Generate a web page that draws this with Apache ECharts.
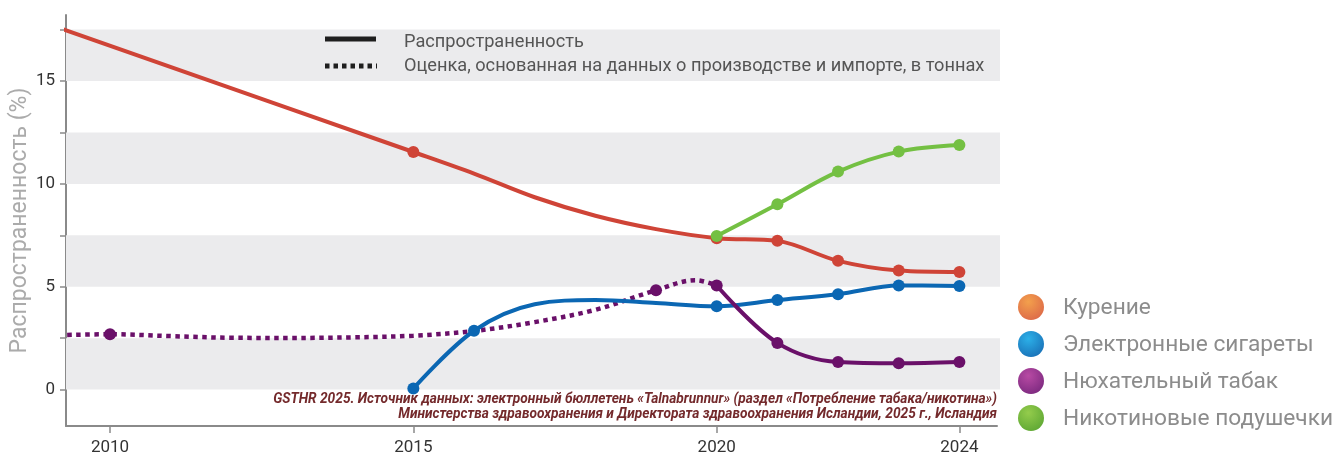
<!DOCTYPE html>
<html>
<head>
<meta charset="utf-8">
<script src="https://cdn.jsdelivr.net/npm/echarts@6/dist/echarts.min.js"></script>
<style>
html,body{margin:0;padding:0;background:#fff;}
#chart{width:1335px;height:454px;}
</style>
</head>
<body>
<div id="chart"></div>
<script>
// ---------- data ----------
const xTickYears = [2010, 2015, 2020, 2024];
const yTickValues = [0, 2.5, 5, 7.5, 10, 12.5, 15, 17.5];
const yLabelValues = [0, 5, 10, 15];
const bandRanges = [[0, 2.5], [5, 7.5], [10, 12.5], [15, 17.5]];

const smokingYears  = [2009, 2015, 2016, 2017, 2018, 2019, 2020, 2021, 2022, 2023, 2024];
const smokingValues = [17.75, 11.55, 10.5, 9.35, 8.45, 7.8, 7.36, 7.23, 6.26, 5.79, 5.72];
const smokingMarked = [2015, 2020, 2021, 2022, 2023, 2024];

const ecigYears  = [2015, 2016, 2017, 2018, 2019, 2020, 2021, 2022, 2023, 2024];
const ecigValues = [0.05, 2.86, 4.15, 4.35, 4.21, 4.05, 4.35, 4.64, 5.06, 5.04];
const ecigMarked = [2015, 2016, 2020, 2021, 2022, 2023, 2024];

const snusEstYears  = [2009, 2010, 2011, 2012, 2013, 2014, 2015, 2016, 2017, 2018, 2019, 2019.65, 2020];
const snusEstValues = [2.63, 2.69, 2.6, 2.52, 2.51, 2.54, 2.62, 2.85, 3.28, 3.88, 4.83, 5.32, 5.06];
const snusEstMarked = [2010, 2019];

const snusYears  = [2020, 2021, 2022, 2023, 2024];
const snusValues = [5.06, 2.27, 1.34, 1.28, 1.34];

const pouchYears  = [2020, 2021, 2022, 2023, 2024];
const pouchValues = [7.47, 9.01, 10.6, 11.57, 11.89];

const yAxisTitle = 'Распространенность (%)';
const styleLegendLabels = ['Распространенность', 'Оценка, основанная на данных о производстве и импорте, в тоннах'];
const productLabels = ['Курение', 'Электронные сигареты', 'Нюхательный табак', 'Никотиновые подушечки'];
const sourceLines = [
  'GSTHR 2025. Источник данных: электронный бюллетень «Talnabrunnur» (раздел «Потребление табака/никотина»)',
  'Министерства здравоохранения и Директората здравоохранения Исландии, 2025 г., Исландия'
];

// ---------- styles ----------
const C_RED = '#cf4437', C_BLUE = '#0b67b3', C_PURPLE = '#6a1069', C_GREEN = '#74c043';
const ballColors = [['#f3a04c', '#dd6a48'], ['#2cb0e8', '#1a72b8'], ['#b84aa4', '#7d2a80'], ['#94cc4c', '#5fa834']];
const MS = 12;

function zipData(xs, ys, marked) {
  return xs.map((x, i) => {
    const show = !marked || marked.indexOf(x) >= 0;
    return { value: [x, ys[i]], symbolSize: show ? MS : 0 };
  });
}

const chart = echarts.init(document.getElementById('chart'), null, { renderer: 'canvas' });
const FONT = 'Roboto';

const graphics = [];
// top style legend
graphics.push({ type: 'line', z: 100, shape: { x1: 325, y1: 39, x2: 376, y2: 39 }, style: { stroke: '#1e1e1e', lineWidth: 5 } });
graphics.push({ type: 'line', z: 100, shape: { x1: 325, y1: 66, x2: 377, y2: 66 }, style: { stroke: '#1e1e1e', lineWidth: 5, lineDash: [4.5, 4] } });
graphics.push({ type: 'text', z: 100, x: 404, y: 42, style: { text: styleLegendLabels[0], font: '18.2px ' + FONT, fill: '#555', verticalAlign: 'middle', textVerticalAlign: 'middle' } });
graphics.push({ type: 'text', z: 100, x: 404, y: 66, style: { text: styleLegendLabels[1], font: '18.2px ' + FONT, fill: '#555', verticalAlign: 'middle', textVerticalAlign: 'middle' } });
// right product legend
productLabels.forEach((lab, i) => {
  const cy = 307 + i * 37;
  graphics.push({ type: 'circle', z: 100, shape: { cx: 1031, cy: cy, r: 13 },
    style: { fill: { type: 'radial', x: 0.4, y: 0.3, r: 0.75, colorStops: [{ offset: 0, color: ballColors[i][0] }, { offset: 1, color: ballColors[i][1] }] } } });
  graphics.push({ type: 'text', z: 100, x: 1063, y: cy + 1, style: { text: lab, font: '22.7px ' + FONT, fill: '#8c8c8c', verticalAlign: 'middle', textVerticalAlign: 'middle' } });
});
// source
sourceLines.forEach((s, i) => {
  graphics.push({ type: 'text', x: 997, y: 399 + i * 15, scaleX: 0.98, z: 100,
    style: { text: s, font: 'italic bold 14px ' + FONT, fill: '#742a2c', align: 'right', textAlign: 'right', verticalAlign: 'middle', textVerticalAlign: 'middle' } });
});

const option = {
  animation: false,
  backgroundColor: '#fff',
  grid: { left: 66, right: 338, top: 15, bottom: 28, containLabel: false, outerBoundsMode: 'none' },
  graphic: graphics,
  xAxis: {
    type: 'value', min: 2009.275, max: 2024.62,
    axisLine: { show: true, onZero: false, lineStyle: { color: '#8a8a8a', width: 2 } },
    axisTick: { show: true, length: 7, customValues: xTickYears, lineStyle: { color: '#8a8a8a', width: 1.5 } },
    axisLabel: { customValues: xTickYears, color: '#333', fontSize: 17, fontFamily: FONT, margin: 13, formatter: v => String(v) },
    splitLine: { show: false }
  },
  yAxis: {
    type: 'value', min: -1.77, max: 18.21,
    name: yAxisTitle, nameLocation: 'middle', nameGap: 34, nameMoveOverlap: false,
    nameTextStyle: { color: '#ababab', fontSize: 23, fontFamily: FONT },
    axisLine: { show: true, lineStyle: { color: '#8a8a8a', width: 2 } },
    axisTick: { show: true, length: 6, customValues: yTickValues, lineStyle: { color: '#8a8a8a', width: 1.5 } },
    axisLabel: { customValues: yLabelValues, color: '#333', fontSize: 17, fontFamily: FONT, margin: 11 },
    splitLine: { show: false }
  },
  series: [
    {
      type: 'line', name: 'bands', data: [], silent: true,
      markArea: { silent: true, itemStyle: { color: '#ebebed' },
        data: bandRanges.map(r => [{ yAxis: r[0], x: 66 }, { yAxis: r[1], x: 1000 }]) }
    },
    { type: 'line', name: productLabels[0], data: zipData(smokingYears, smokingValues, smokingMarked), smooth: 0.35,
      symbol: 'circle', lineStyle: { color: C_RED, width: 4 }, itemStyle: { color: C_RED }, z: 3 },
    { type: 'line', name: productLabels[2] + ' est', data: zipData(snusEstYears, snusEstValues, snusEstMarked), smooth: 0.35,
      symbol: 'circle', lineStyle: { color: C_PURPLE, width: 4.5, type: [4.5, 4.5], cap: 'butt' }, itemStyle: { color: C_PURPLE }, z: 3 },
    { type: 'line', name: productLabels[1], data: zipData(ecigYears, ecigValues, ecigMarked), smooth: 0.35,
      symbol: 'circle', lineStyle: { color: C_BLUE, width: 4 }, itemStyle: { color: C_BLUE }, z: 4 },
    { type: 'line', name: productLabels[2], data: zipData(snusYears, snusValues), smooth: 0.35,
      symbol: 'circle', lineStyle: { color: C_PURPLE, width: 4 }, itemStyle: { color: C_PURPLE }, z: 4 },
    { type: 'line', name: productLabels[3], data: zipData(pouchYears, pouchValues), smooth: 0.35,
      symbol: 'circle', lineStyle: { color: C_GREEN, width: 4 }, itemStyle: { color: C_GREEN }, z: 5 }
  ]
};
chart.setOption(option);
</script>
</body>
</html>
